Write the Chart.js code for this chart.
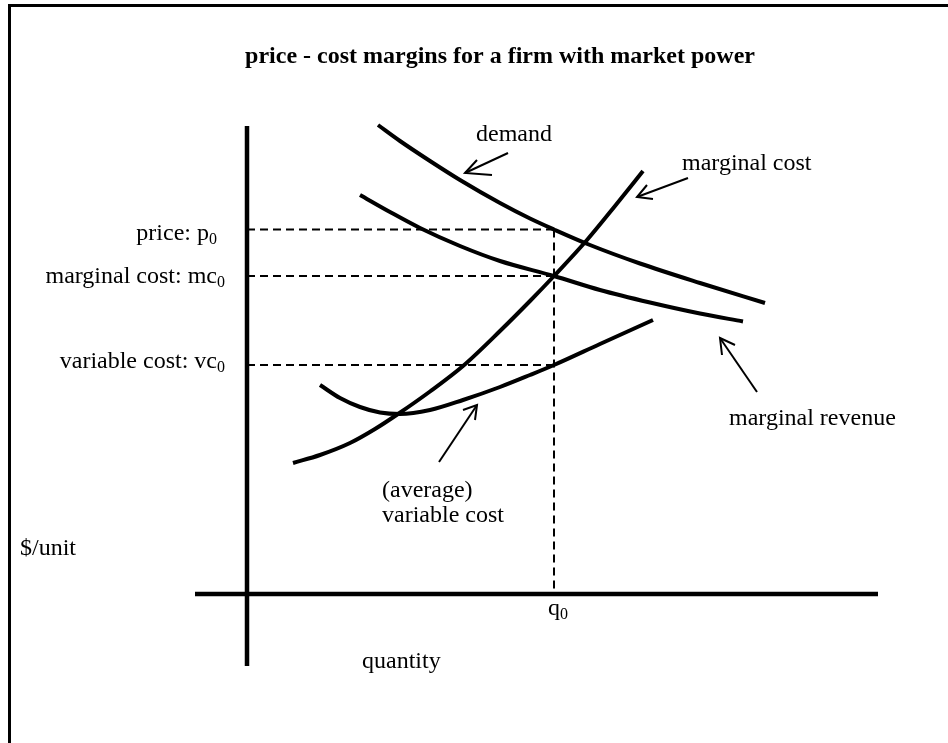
<!DOCTYPE html>
<html>
<head>
<meta charset="utf-8">
<script src="https://cdn.jsdelivr.net/npm/chart.js@4"></script>
<style>
  html, body { margin: 0; padding: 0; background: #fff; overflow: hidden; }
  #frame { position: absolute; left: 8px; top: 4px; width: 1000px; height: 800px; border: 3px solid #000; }
  #chart { position: absolute; left: 0; top: 0; }
</style>
</head>
<body>
<div id="frame"></div>
<canvas id="chart" width="948" height="743"></canvas>
<script>
// diagram units: quantity to the right of the $/unit axis, $/unit above the quantity axis
const demandQ = [13.1, 15.3, 18.3, 21.3, 25.3, 28.3, 30.7, 34.3, 39.3, 45.3, 51.8]
const demandP = [46.9, 45.3, 43.3, 41.4, 39.1, 37.55, 36.45, 34.9, 33.05, 31.1, 29.1]

const revenueQ = [11.3, 14.3, 17.3, 21.3, 25.3, 30.7, 35.3, 40.3, 45.3, 49.6]
const revenueP = [39.9, 38.2, 36.6, 34.8, 33.3, 31.8, 30.4, 29.15, 28.05, 27.25]

const mcQ = [4.6, 7.3, 10.3, 12.8, 15.1, 18.3, 21.6, 25.3, 28.3, 30.7, 34.0, 36.8, 39.6]
const mcP = [13.1, 13.9, 15.1, 16.5, 18.0, 20.25, 22.8, 26.3, 29.3, 31.8, 35.4, 38.8, 42.3]

const avcQ = [7.3, 9.3, 11.3, 13.3, 15.3, 18.3, 21.6, 25.3, 28.3, 30.7, 35.3, 40.6]
const avcP = [20.9, 19.6, 18.7, 18.15, 18.0, 18.4, 19.4, 20.7, 21.9, 22.9, 25.0, 27.4]

// the firm's chosen quantity and the prices read at it
const q0 = 30.7
const p0 = 36.45
const mc0 = 31.8
const vc0 = 22.9

// axis extents
const qAxis = [-5.2, 63.1]
const pAxis = [-7.2, 46.8]

// pointer arrows: [tailQ, tailP, tipQ, tipP, barb1Q, barb1P, barb2Q, barb2P]
const demandArrow = [26.1, 44.1, 21.8, 42.1, 23.0, 43.4, 24.5, 41.9]
const mcArrow = [44.1, 41.6, 39.0, 39.7, 40.0, 40.9, 40.6, 39.5]
const revenueArrow = [51.0, 20.2, 47.3, 25.6, 48.8, 24.9, 47.5, 23.9]
const avcArrow = [19.2, 13.2, 23.0, 18.9, 21.6, 18.4, 22.8, 17.4]

const titleText = 'price - cost margins for a firm with market power'

const zip = (xs, ys) => xs.map((x, i) => ({ x: x, y: ys[i] }))

function curve(xs, ys) {
    return {
        data: zip(xs, ys),
        borderColor: '#000',
        borderWidth: 4,
        cubicInterpolationMode: 'monotone'
    }
}

function straight(points, width, dash) {
    return {
        data: points,
        borderColor: '#000',
        borderWidth: width,
        borderDash: dash || [],
        tension: 0
    }
}

function arrow(a) {
    return [
        straight([{ x: a[0], y: a[1] }, { x: a[2], y: a[3] }], 2),
        straight([{ x: a[4], y: a[5] }, { x: a[2], y: a[3] }, { x: a[6], y: a[7] }], 2)
    ]
}

const dash = [8, 5]

const datasets = [
    straight([{ x: 0, y: pAxis[1] }, { x: 0, y: pAxis[0] }], 4.5),
    straight([{ x: qAxis[0], y: 0 }, { x: qAxis[1], y: 0 }], 4.5),
    straight([{ x: 0, y: p0 }, { x: q0, y: p0 }], 2, dash),
    straight([{ x: 0, y: mc0 }, { x: q0, y: mc0 }], 2, dash),
    straight([{ x: 0, y: vc0 }, { x: q0, y: vc0 }], 2, dash),
    straight([{ x: q0, y: p0 }, { x: q0, y: 0 }], 2, dash),
    curve(demandQ, demandP),
    curve(revenueQ, revenueP),
    curve(mcQ, mcP),
    curve(avcQ, avcP),
    ...arrow(demandArrow),
    ...arrow(mcArrow),
    ...arrow(revenueArrow),
    ...arrow(avcArrow)
]

// text annotations: anchor in diagram units
const notes = [
    { text: 'price: p', sub: '0', x: -3.0, y: 35.4, align: 'right' },
    { text: 'marginal cost: mc', sub: '0', x: -2.2, y: 31.1, align: 'right' },
    { text: 'variable cost: vc', sub: '0', x: -2.2, y: 22.6, align: 'right' },
    { text: '$/unit', x: -22.7, y: 3.9 },
    { text: 'quantity', x: 11.5, y: -7.4 },
    { text: 'q', sub: '0', x: 30.1, y: -2.1 },
    { text: 'demand', x: 22.9, y: 45.3 },
    { text: 'marginal cost', x: 43.5, y: 42.4 },
    { text: 'marginal revenue', x: 48.2, y: 16.9 },
    { text: '(average)', x: 13.5, y: 9.7 },
    { text: 'variable cost', x: 13.5, y: 7.2 }
]

const serif = '"Liberation Serif", "Times New Roman", serif'

const textPlugin = {
    id: 'diagramText',
    afterDraw(chart) {
        const ctx = chart.ctx
        const xs = chart.scales.x
        const ys = chart.scales.y
        ctx.save()
        ctx.fillStyle = '#000'
        ctx.textBaseline = 'alphabetic'

        ctx.font = 'bold 24px ' + serif
        ctx.textAlign = 'center'
        ctx.fillText(titleText, xs.getPixelForValue(25.3), ys.getPixelForValue(53.1))

        ctx.textAlign = 'left'
        notes.forEach(n => {
            const px = xs.getPixelForValue(n.x)
            const py = ys.getPixelForValue(n.y)
            ctx.font = '24px ' + serif
            const w = ctx.measureText(n.text).width
            let subW = 0
            if (n.sub) {
                ctx.font = '16px ' + serif
                subW = ctx.measureText(n.sub).width
            }
            const left = n.align === 'right' ? px - w - subW : px
            ctx.font = '24px ' + serif
            ctx.fillText(n.text, left, py)
            if (n.sub) {
                ctx.font = '16px ' + serif
                ctx.fillText(n.sub, left + w, py + 4)
            }
        })
        ctx.restore()
    }
}

new Chart(document.getElementById('chart').getContext('2d'), {
    type: 'scatter',
    data: { datasets: datasets },
    options: {
        responsive: false,
        animation: false,
        showLine: true,
        clip: false,
        layout: { padding: 0 },
        elements: { point: { radius: 0, hoverRadius: 0 } },
        plugins: {
            legend: { display: false },
            tooltip: { enabled: false },
            title: { display: false }
        },
        scales: {
            x: { type: 'linear', min: -24.7, max: 70.1, display: false },
            y: { type: 'linear', min: -14.9, max: 59.4, display: false }
        }
    },
    plugins: [textPlugin]
})
</script>
</body>
</html>
